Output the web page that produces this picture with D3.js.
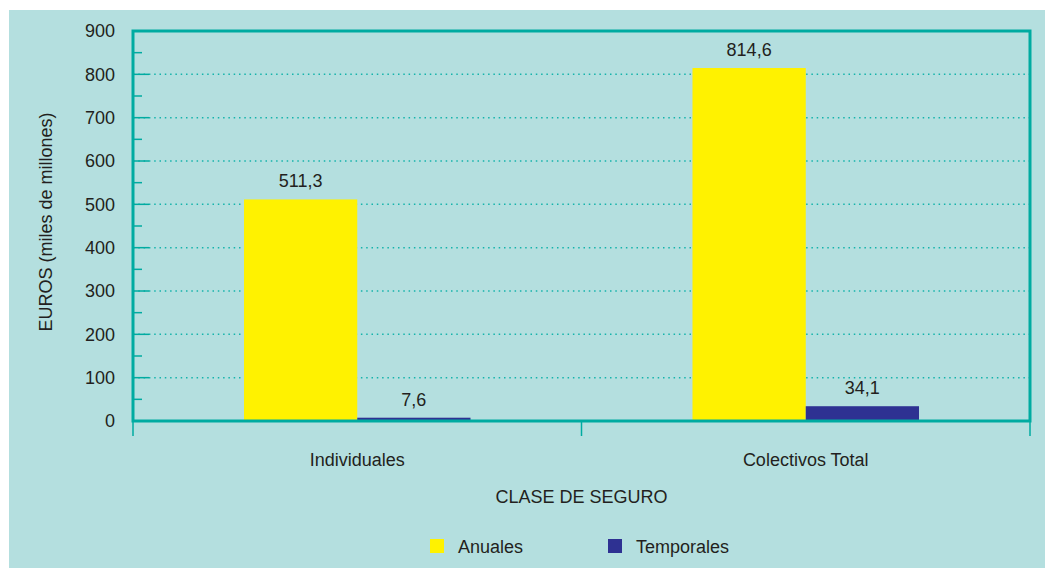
<!DOCTYPE html>
<html>
<head>
<meta charset="utf-8">
<script src="https://cdn.jsdelivr.net/npm/d3@7"></script>
<style>
  body { margin: 0; background: #fff; }
  text { font-family: "Liberation Sans", Arial, sans-serif; fill: #231f20; }
</style>
</head>
<body>
<div id="chart"></div>
<script>
// Data
var categories = ["Individuales", "Colectivos Total"];
var seriesNames = ["Anuales", "Temporales"];
var anuales = [511.3, 814.6];
var temporales = [7.6, 34.1];
var valueLabels = [["511,3", "7,6"], ["814,6", "34,1"]];
var yTicks = [0, 100, 200, 300, 400, 500, 600, 700, 800, 900];

var svgWidth = 1049;
var svgHeight = 569;
var margin = { top: 31, right: 19, bottom: 148, left: 133 };
var chartWidth = svgWidth - margin.left - margin.right;
var chartHeight = svgHeight - margin.top - margin.bottom;

var teal = "#00aba1";
var colors = ["#fff200", "#2e3192"];
var fontSize = 18;

var svg = d3.select("#chart")
  .append("svg")
  .attr("width", svgWidth)
  .attr("height", svgHeight);

// panel background
svg.append("rect")
  .attr("x", 9).attr("y", 10)
  .attr("width", 1036).attr("height", 558)
  .attr("fill", "#b4dfdf");

var chartGroup = svg.append("g")
  .attr("transform", `translate(${margin.left}, ${margin.top})`);

var xScale = d3.scaleBand()
  .domain(categories)
  .range([0, chartWidth]);

var xInner = d3.scaleBand()
  .domain(seriesNames)
  .range([0, xScale.bandwidth()])
  .paddingOuter(0.98);

var yScale = d3.scaleLinear()
  .domain([0, 900])
  .range([chartHeight, 0]);

// dotted gridlines
chartGroup.append("g")
  .selectAll("line")
  .data(yTicks.filter(d => d > 0 && d < 900))
  .enter()
  .append("line")
  .attr("x1", 0)
  .attr("x2", chartWidth)
  .attr("y1", d => yScale(d))
  .attr("y2", d => yScale(d))
  .attr("stroke", "#14b3ab")
  .attr("stroke-width", 1.5)
  .attr("stroke-dasharray", "1.5,3.8");

// bars
var rows = categories.map((c, i) => ({ cat: c, values: [anuales[i], temporales[i]], labels: valueLabels[i] }));

var groups = chartGroup.selectAll(".cat")
  .data(rows)
  .enter()
  .append("g")
  .attr("transform", d => `translate(${xScale(d.cat)}, 0)`);

groups.selectAll("rect")
  .data(d => d.values.map((v, j) => ({ name: seriesNames[j], value: v, label: d.labels[j], color: colors[j] })))
  .enter()
  .append("rect")
  .attr("x", d => xInner(d.name))
  .attr("y", d => yScale(d.value))
  .attr("width", xInner.bandwidth())
  .attr("height", d => chartHeight - yScale(d.value))
  .attr("fill", d => d.color);

groups.selectAll(".vlabel")
  .data(d => d.values.map((v, j) => ({ name: seriesNames[j], value: v, label: d.labels[j] })))
  .enter()
  .append("text")
  .attr("x", d => xInner(d.name) + xInner.bandwidth() / 2)
  .attr("y", d => yScale(d.value) - 12)
  .attr("text-anchor", "middle")
  .attr("font-size", fontSize)
  .text(d => d.label);

// left axis
var leftAxis = d3.axisLeft(yScale).tickValues(yTicks).tickSize(0).tickPadding(18);
var yAxis = chartGroup.append("g").call(leftAxis);
yAxis.select(".domain").remove();
yAxis.selectAll("text").attr("font-size", fontSize).attr("fill", "#231f20")
  .style("font-family", "Liberation Sans, Arial, sans-serif");

// inner ticks (major + minor)
var minor = d3.range(50, 900, 100);
chartGroup.append("g")
  .selectAll("line")
  .data(minor)
  .enter()
  .append("line")
  .attr("x1", 0).attr("x2", 9)
  .attr("y1", d => yScale(d)).attr("y2", d => yScale(d))
  .attr("stroke", teal).attr("stroke-width", 1.5);

chartGroup.append("g")
  .selectAll("line")
  .data(yTicks.filter(d => d > 0 && d < 900))
  .enter()
  .append("line")
  .attr("x1", 0).attr("x2", 16)
  .attr("y1", d => yScale(d)).attr("y2", d => yScale(d))
  .attr("stroke", teal).attr("stroke-width", 1.5);

// bottom ticks at band edges
var edges = [0, xScale.bandwidth(), chartWidth];
chartGroup.append("g")
  .selectAll("line")
  .data(edges)
  .enter()
  .append("line")
  .attr("x1", d => d).attr("x2", d => d)
  .attr("y1", chartHeight).attr("y2", chartHeight + 15)
  .attr("stroke", teal).attr("stroke-width", 1.5);

// frame
chartGroup.append("path")
  .attr("d", `M0,${chartHeight}V0H${chartWidth}V${chartHeight}Z`)
  .attr("fill", "none")
  .attr("stroke", teal)
  .attr("stroke-width", 3);

// category labels
chartGroup.append("g")
  .selectAll("text")
  .data(categories)
  .enter()
  .append("text")
  .attr("x", d => xScale(d) + xScale.bandwidth() / 2)
  .attr("y", chartHeight + 45)
  .attr("text-anchor", "middle")
  .attr("font-size", fontSize)
  .text(d => d);

// axis titles
chartGroup.append("text")
  .attr("x", chartWidth / 2)
  .attr("y", chartHeight + 82)
  .attr("text-anchor", "middle")
  .attr("font-size", fontSize)
  .text("CLASE DE SEGURO");

svg.append("text")
  .attr("transform", `translate(52, ${margin.top + chartHeight / 2 - 4}) rotate(-90)`)
  .attr("text-anchor", "middle")
  .attr("font-size", fontSize)
  .text("EUROS (miles de millones)");

// legend
var legendX = [430, 608];
var legend = svg.append("g");
seriesNames.forEach(function(name, i) {
  legend.append("rect")
    .attr("x", legendX[i]).attr("y", 539)
    .attr("width", 14).attr("height", 14)
    .attr("fill", colors[i]);
  legend.append("text")
    .attr("x", legendX[i] + 28).attr("y", 553)
    .attr("font-size", fontSize)
    .text(name);
});
</script>
</body>
</html>
